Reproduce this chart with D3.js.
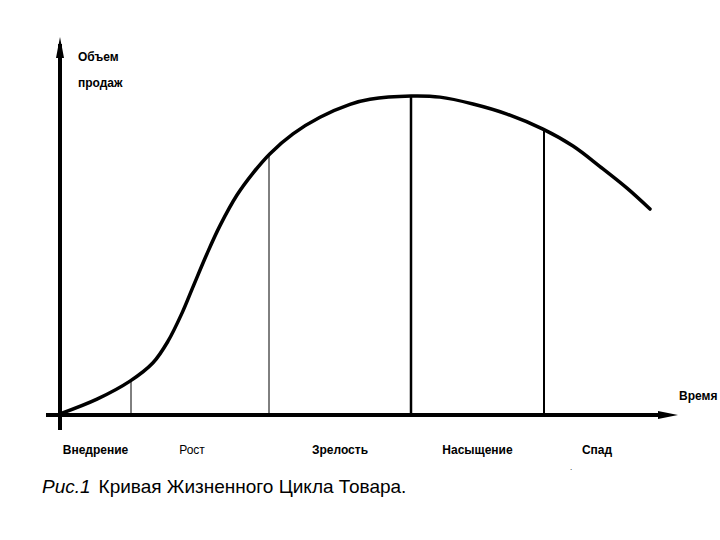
<!DOCTYPE html>
<html>
<head>
	<meta charset="utf-8">
	<title>Кривая жизненного цикла товара</title>
	<script type="text/javascript" src="https://cdn.jsdelivr.net/npm/d3@7"></script>
	<style>
		body { margin: 0; background: #fff; }
		text { font-family: "Liberation Sans", Arial, sans-serif; fill: #000; }
	</style>
</head>
<body>
	<script type="text/javascript">
		var svgWidth = 720;
		var svgHeight = 540;

		// время (условные единицы) и объем продаж (%)
		var timeValues = [0, 0.74, 1.4, 1.86, 2.16, 2.44, 2.66, 2.94, 3.2, 3.54, 3.86, 4.2, 4.66,
			5.2, 5.8, 6.2, 7.02, 7.6, 8.26, 8.94, 9.66, 10.26, 10.8, 11.34, 11.8];
		var salesValues = [0.3, 4.4, 9.4, 14.5, 20.5, 28.3, 35.6, 44.8, 52.6, 61.1, 67.2, 72.6, 78.1,
			82.7, 86.3, 87.7, 88.6, 88.3, 86.4, 83.6, 79.4, 74.7, 69.0, 63.0, 57.2];

		// стадии цикла
		var stageNames = ["Внедрение", "Рост", "Зрелость", "Насыщение", "Спад"];
		var stageBounds = [0, 1.42, 4.18, 7.02, 9.68, 11.8];
		var boundSales = [9.6, 72.4, 88.6, 79.2];

		var axisY = "Объем";
		var axisY2 = "продаж";
		var axisX = "Время";
		var caption = "Кривая Жизненного Цикла Товара.";

		var x = d3.scaleLinear().domain([0, 12]).range([60, 660]);
		var y = d3.scaleLinear().domain([0, 100]).range([415, 55]);

		var svg = d3.select("body")
			.append("svg")
			.attr("width", svgWidth)
			.attr("height", svgHeight);

		// оси
		svg.append("line")
			.attr("x1", x(0)).attr("y1", y(0) + 15)
			.attr("x2", x(0)).attr("y2", 44)
			.attr("stroke", "#000").attr("stroke-width", 4);
		svg.append("path")
			.attr("d", "M" + x(0) + ",37 L" + (x(0) - 4) + ",58 L" + (x(0) + 4) + ",58 Z")
			.attr("fill", "#000");

		svg.append("line")
			.attr("x1", 46).attr("y1", y(0))
			.attr("x2", 665).attr("y2", y(0))
			.attr("stroke", "#000").attr("stroke-width", 4);
		svg.append("path")
			.attr("d", "M678," + y(0) + " L658," + (y(0) - 4) + " L658," + (y(0) + 4) + " Z")
			.attr("fill", "#000");

		// границы стадий
		var widths = [1, 1, 2.5, 2];
		svg.selectAll("line.bound")
			.data(boundSales)
			.enter()
			.append("line")
			.attr("class", "bound")
			.attr("x1", function(d, i){ return x(stageBounds[i + 1]); })
			.attr("x2", function(d, i){ return x(stageBounds[i + 1]); })
			.attr("y1", y(0))
			.attr("y2", function(d){ return y(d); })
			.attr("stroke", "#000")
			.attr("stroke-width", function(d, i){ return widths[i]; });

		// кривая
		var points = timeValues.map(function(t, i){ return [t, salesValues[i]]; });
		var line = d3.line()
			.x(function(d){ return x(d[0]); })
			.y(function(d){ return y(d[1]); })
			.curve(d3.curveCatmullRom);
		svg.append("path")
			.attr("d", line(points))
			.attr("fill", "none")
			.attr("stroke", "#000")
			.attr("stroke-width", 3.5)
			.attr("stroke-linecap", "round");

		// подписи стадий
		svg.selectAll("text.stage")
			.data(stageNames)
			.enter()
			.append("text")
			.attr("class", "stage")
			.attr("x", function(d, i){ return x((stageBounds[i] + stageBounds[i + 1]) / 2) - (i == 1 ? 8 : 0); })
			.attr("y", 454)
			.attr("text-anchor", "middle")
			.attr("font-size", "12px")
			.attr("font-weight", function(d){ return d == "Рост" ? "normal" : "bold"; })
			.text(function(d){ return d; });

		svg.append("text").attr("x", 570).attr("y", 470).attr("font-size", "8px").text(".");

		// подписи осей
		svg.append("text").attr("x", 78).attr("y", 61)
			.attr("font-size", "12px").attr("font-weight", "bold").text(axisY);
		svg.append("text").attr("x", 78).attr("y", 87)
			.attr("font-size", "12px").attr("font-weight", "bold").text(axisY2);
		svg.append("text").attr("x", 679).attr("y", 400)
			.attr("font-size", "12px").attr("font-weight", "bold").text(axisX);

		// подпись рисунка
		var cap = svg.append("text").attr("x", 42).attr("y", 493)
			.attr("font-size", "19px").attr("fill", "#222");
		cap.append("tspan").attr("font-style", "italic").text("Рис.1");
		cap.append("tspan").attr("dx", 8).text(caption);
	</script>
</body>
</html>
